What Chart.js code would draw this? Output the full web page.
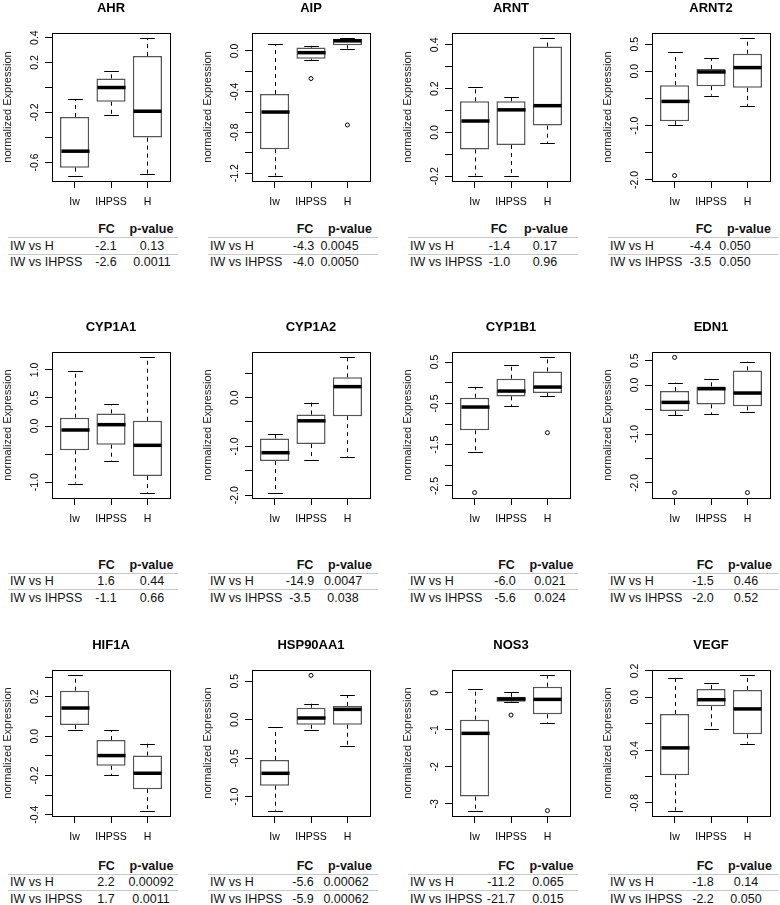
<!DOCTYPE html>
<html><head><meta charset="utf-8">
<script src="https://cdn.jsdelivr.net/npm/chart.js@4.4.0/dist/chart.umd.min.js"></script>
<style>
html,body{margin:0;padding:0;background:#fff;width:780px;height:905px;overflow:hidden;position:relative;font-family:"Liberation Sans",Arial,Helvetica,sans-serif;}
canvas.pc{position:absolute;}
.cell{position:absolute;font-size:12.5px;line-height:14px;color:#111;white-space:nowrap;transform:translateY(-50%);}
.hd{font-weight:bold;}
.ln{position:absolute;height:1px;background:#c8c8c8;}
</style></head><body>
<script>
// ---------- data ----------
const genes = ['AHR','AIP','ARNT','ARNT2','CYP1A1','CYP1A2','CYP1B1','EDN1','HIF1A','HSP90AA1','NOS3','VEGF'];
const groups = ['Iw','IHPSS','H'];
const whiskerLow = [
  [-0.705,-0.22,-0.691],[-1.223,-0.086,0.023],[-0.197,-0.197,-0.048],[-0.984,-0.448,-0.641],
  [-1.026,-0.623,-1.186],[-1.946,-1.279,-1.224],[-1.669,-0.565,-0.331],[-0.612,-0.592,-0.544],
  [0.031,-0.199,-0.379],[-1.18,-0.13,-0.337],[-3.18,-0.26,-0.818],[-0.858,-0.242,-0.351]
];
const quartile1 = [
  [-0.642,-0.114,-0.401],[-0.965,-0.076,0.056],[-0.078,-0.058,0.031],[-0.92,-0.274,-0.305],
  [-0.433,-0.332,-0.89],[-1.30,-0.952,-0.381],[-1.153,-0.331,-0.25],[-0.531,-0.395,-0.435],
  [0.056,-0.151,-0.27],[-0.856,-0.065,-0.065],[-2.803,-0.243,-0.584],[-0.59,-0.068,-0.28]
];
const medians = [
  [-0.51,0.0,-0.19],[-0.60,-0.017,0.099],[0.052,0.103,0.122],[-0.554,-0.012,0.068],
  [-0.071,0.024,-0.344],[-1.129,-0.476,0.224],[-0.589,-0.202,-0.105],[-0.354,-0.075,-0.163],
  [0.143,-0.099,-0.189],[-0.696,0.022,0.134],[-1.096,-0.171,-0.18],[-0.383,-0.018,-0.088]
];
const quartile3 = [
  [-0.236,0.073,0.252],[-0.423,0.033,0.116],[0.142,0.142,0.392],[-0.255,0.044,0.324],
  [0.148,0.225,0.095],[-0.837,-0.347,0.415],[-0.363,0.097,0.274],[-0.122,-0.027,0.299],
  [0.231,-0.02,-0.099],[-0.523,0.156,0.177],[-0.728,-0.108,0.162],[-0.126,0.063,0.055]
];
const whiskerHigh = [
  [-0.095,0.136,0.393],[0.063,0.05,0.122],[0.208,0.16,0.429],[0.355,0.243,0.604],
  [0.985,0.391,1.222],[-0.748,-0.102,0.823],[-0.113,0.419,0.613],[0.048,0.116,0.476],
  [0.309,0.031,-0.039],[-0.095,0.207,0.315],[0.09,0.018,0.467],[0.149,0.108,0.166]
];
// outliers: [group index, value]
const outliers = [
  [],[[1,-0.271],[2,-0.727]],[],[[0,-1.918]],
  [],[],[[0,-2.661],[2,-1.21]],[[0,0.565],[0,-2.197],[2,-2.197]],
  [],[[1,0.575]],[[1,-0.602],[2,-3.18]],[]
];
const yTicks = [
  [-0.6,-0.4,-0.2,0,0.2,0.4],[-1.2,-1.0,-0.8,-0.6,-0.4,-0.2,0],[-0.2,-0.1,0,0.1,0.2,0.3,0.4],[-2,-1.5,-1,-0.5,0,0.5],
  [-1,-0.5,0,0.5,1],[-2,-1.5,-1,-0.5,0,0.5],[-2.5,-2,-1.5,-1,-0.5,0,0.5],[-2,-1.5,-1,-0.5,0,0.5],
  [-0.4,-0.3,-0.2,-0.1,0,0.1,0.2,0.3],[-1,-0.5,0,0.5],[-3,-2,-1,0],[-0.8,-0.6,-0.4,-0.2,0,0.2]
];
const yTickLabels = [
  ['-0.6','-0.2','0.2','0.4'],['-1.2','-0.8','-0.4','0.0'],['-0.2','0.0','0.2','0.4'],['-2.0','-1.0','0.0','0.5'],
  ['-1.0','0.0','0.5','1.0'],['-2.0','-1.0','0.0'],['-2.5','-1.5','-0.5','0.5'],['-2.0','-1.0','0.0','0.5'],
  ['-0.4','-0.2','0.0','0.2'],['-1.0','-0.5','0.0','0.5'],['-3','-2','-1','0'],['-0.8','-0.4','0.0','0.2']
];
const yTitle = 'normalized Expression';
const comparisons = ['IW vs H','IW vs IHPSS'];
const tableHeader = ['FC','p-value'];
const fcVsH     = ['-2.1','-4.3','-1.4','-4.4','1.6','-14.9','-6.0','-1.5','2.2','-5.6','-11.2','-1.8'];
const pVsH      = ['0.13','0.0045','0.17','0.050','0.44','0.0047','0.021','0.46','0.00092','0.00062','0.065','0.14'];
const fcVsIHPSS = ['-2.6','-4.0','-1.0','-3.5','-1.1','-3.5','-5.6','-2.0','1.7','-5.9','-21.7','-2.2'];
const pVsIHPSS  = ['0.0011','0.0050','0.96','0.050','0.66','0.038','0.024','0.52','0.0011','0.00062','0.015','0.050'];

// ---------- layout ----------
const FONT = '"Liberation Sans", Arial, Helvetica, sans-serif';
const rowTop = [33,352,670];
const rowBottom = [181,498,816];
const tableY = [229,564.5,865.5];
const TICK = 7;
// table column centres relative to panel column start (header FC, header p, value FC, value p)
const tblPos = [
  [106.5,151.5,106,152],[105,150,103.5,139.5],[99,146,99.5,145],[104,149,100.5,135],
  [106.5,151.5,106,152],[105,150,100,143],[106.5,151.5,105,150],[105,150,103,146],
  [106.5,151.5,106,151],[105,150,103,146],[106.5,151.5,101,148],[105,150,103,146]
];

const boxPlugin = {
  id: 'boxDecor',
  afterDatasetsDraw(chart) {
    const i = chart.options.plugins.boxDecor.idx;
    const ctx = chart.ctx;
    const xs = chart.scales.x, ys = chart.scales.y;
    const bars = chart.getDatasetMeta(0).data;
    ctx.save();
    for (let j = 0; j < groups.length; j++) {
      const bw = bars[j].width;
      const cx = Math.round(xs.getPixelForValue(j + 1)) + 0.5;
      const yq1 = ys.getPixelForValue(quartile1[i][j]);
      const yq3 = ys.getPixelForValue(quartile3[i][j]);
      const ylo = ys.getPixelForValue(whiskerLow[i][j]);
      const yhi = ys.getPixelForValue(whiskerHigh[i][j]);
      const ymd = ys.getPixelForValue(medians[i][j]);
      ctx.strokeStyle = '#000'; ctx.lineWidth = 1; ctx.setLineDash([4,4]);
      ctx.beginPath();
      ctx.moveTo(cx, yq3); ctx.lineTo(cx, yhi);
      ctx.moveTo(cx, yq1); ctx.lineTo(cx, ylo);
      ctx.stroke();
      ctx.setLineDash([]);
      ctx.beginPath();
      ctx.moveTo(cx - bw/4, Math.round(yhi)+0.5); ctx.lineTo(cx + bw/4, Math.round(yhi)+0.5);
      ctx.moveTo(cx - bw/4, Math.round(ylo)+0.5); ctx.lineTo(cx + bw/4, Math.round(ylo)+0.5);
      ctx.stroke();
      ctx.lineWidth = 3.5;
      ctx.beginPath();
      ctx.moveTo(cx - bw/2 + 0.5, ymd); ctx.lineTo(cx + bw/2 - 0.5, ymd);
      ctx.stroke();
    }
    ctx.restore();
  },
  afterDraw(chart) {
    const i = chart.options.plugins.boxDecor.idx;
    const ctx = chart.ctx;
    const xs = chart.scales.x, ys = chart.scales.y;
    const ca = chart.chartArea;
    ctx.save();
    ctx.strokeStyle = '#000'; ctx.lineWidth = 1;
    ctx.strokeRect(Math.round(ca.left)+0.5, Math.round(ca.top)+0.5, Math.round(ca.right-ca.left), Math.round(ca.bottom-ca.top));
    ctx.fillStyle = '#000';
    ctx.font = 'bold 13px ' + FONT;
    ctx.textAlign = 'center'; ctx.textBaseline = 'middle';
    ctx.fillText(genes[i], (ca.left + ca.right)/2, ca.top - 25);
    ctx.font = '10.5px ' + FONT;
    groups.forEach((g, j) => ctx.fillText(g, xs.getPixelForValue(j+1), ca.bottom + 21));
    yTickLabels[i].forEach(t => {
      const y = ys.getPixelForValue(parseFloat(t));
      ctx.save();
      ctx.translate(ca.left - 16.5, y);
      ctx.rotate(-Math.PI/2);
      ctx.fillText(t, 0, 0);
      ctx.restore();
    });
    ctx.font = '11px ' + FONT;
    ctx.fillStyle = '#222';
    ctx.save();
    ctx.translate(ca.left - 44.5, (ca.top + ca.bottom)/2);
    ctx.rotate(-Math.PI/2);
    ctx.fillText(yTitle, 0, 0);
    ctx.restore();
    ctx.restore();
  }
};

genes.forEach((gene, i) => {
  const r = Math.floor(i / 4), c = i % 4;
  const plotH = rowBottom[r] - rowTop[r];
  const cTop = rowTop[r] - 33;
  const cLeft = c * 200;
  const cW = Math.min(195, 780 - cLeft);
  const cH = 33 + plotH + 40;
  const cv = document.createElement('canvas');
  cv.className = 'pc';
  cv.width = cW; cv.height = cH;
  cv.style.left = cLeft + 'px'; cv.style.top = cTop + 'px';
  cv.style.width = cW + 'px'; cv.style.height = cH + 'px';
  document.body.appendChild(cv);

  const all = [...whiskerLow[i], ...whiskerHigh[i], ...outliers[i].map(o => o[1])];
  const lo = Math.min(...all), hi = Math.max(...all);
  const pad = (hi - lo) * 0.04;

  new Chart(cv.getContext('2d'), {
    type: 'bar',
    data: {
      datasets: [
        {
          type: 'bar',
          data: groups.map((g, j) => ({x: j + 1, y: [quartile1[i][j], quartile3[i][j]]})),
          backgroundColor: '#ffffff',
          borderColor: '#555555',
          borderWidth: 1.5,
          borderSkipped: false,
          barPercentage: 0.8,
          categoryPercentage: 1.0
        },
        {
          type: 'scatter',
          data: outliers[i].map(o => ({x: o[0] + 1, y: o[1]})),
          pointStyle: 'circle',
          pointRadius: 2,
          pointBorderWidth: 1,
          borderColor: '#000',
          backgroundColor: 'rgba(0,0,0,0)'
        }
      ]
    },
    options: {
      responsive: false,
      animation: false,
      devicePixelRatio: 1,
      layout: {padding: {left: 52 - TICK, top: 33, right: cW - 170, bottom: cH - 33 - plotH - TICK}},
      plugins: {legend: {display: false}, tooltip: {enabled: false}, title: {display: false}, boxDecor: {idx: i}},
      scales: {
        x: {
          type: 'linear', min: 0.38, max: 3.62, bounds: 'data', offset: false,
          afterBuildTicks: s => { s.ticks = groups.map((g, j) => ({value: j + 1})); },
          ticks: {display: false},
          grid: {display: true, offset: false, drawOnChartArea: false, drawTicks: true, tickLength: TICK, color: '#000', lineWidth: 1},
          border: {display: false}
        },
        y: {
          type: 'linear', min: lo - pad, max: hi + pad, bounds: 'data',
          afterBuildTicks: s => { s.ticks = yTicks[i].map(v => ({value: v})); },
          ticks: {display: false},
          grid: {display: true, drawOnChartArea: false, drawTicks: true, tickLength: TICK, color: '#000', lineWidth: 1},
          border: {display: false}
        }
      }
    },
    plugins: [boxPlugin]
  });

  const cx0 = c * 200;
  const tl = cx0 + 8;
  const ty = tableY[r];
  const tp = tblPos[i];
  const addCell = (txt, x, y, cls, align) => {
    const d = document.createElement('div');
    d.className = 'cell' + (cls ? ' ' + cls : '');
    d.textContent = txt;
    d.style.top = y + 'px';
    d.style.left = x + 'px';
    if (align !== 'left') d.style.transform = 'translate(-50%,-50%)';
    document.body.appendChild(d);
  };
  const addLine = (y) => {
    const d = document.createElement('div');
    d.className = 'ln';
    d.style.left = tl + 'px'; d.style.width = '170px'; d.style.top = y + 'px';
    document.body.appendChild(d);
  };
  addCell(tableHeader[0], cx0 + tp[0], ty, 'hd');
  addCell(tableHeader[1], cx0 + tp[1], ty, 'hd');
  addLine(ty + 8);
  addCell(comparisons[0], tl + 2, ty + 16.5, '', 'left');
  addCell(fcVsH[i], cx0 + tp[2], ty + 16.5);
  addCell(pVsH[i], cx0 + tp[3], ty + 16.5);
  addLine(ty + 24.5);
  addCell(comparisons[1], tl + 2, ty + 33, '', 'left');
  addCell(fcVsIHPSS[i], cx0 + tp[2], ty + 33);
  addCell(pVsIHPSS[i], cx0 + tp[3], ty + 33);
});
</script>
</body></html>
